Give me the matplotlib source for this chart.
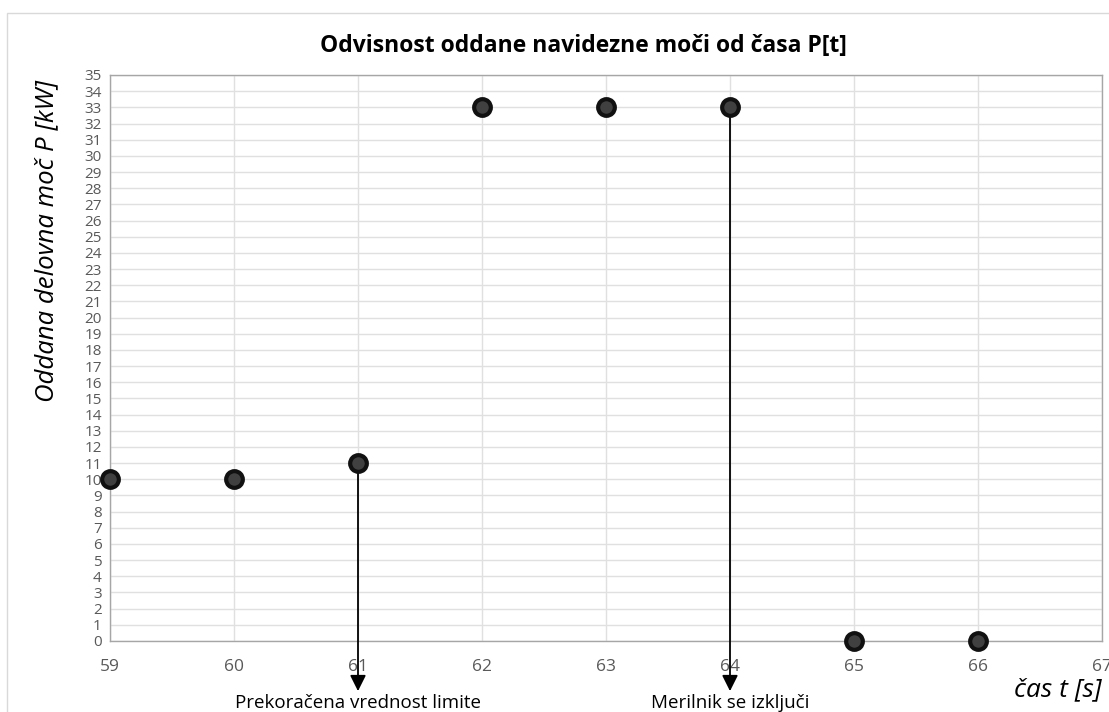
import matplotlib
matplotlib.use("Agg")
import matplotlib.pyplot as plt
from matplotlib.patches import Rectangle

# meritve
t = [59, 60, 61, 62, 63, 64, 65, 66]
P = [10, 10, 11, 33, 33, 33, 0, 0]

# dogodki (cas, besedilo)
ev_t = [61, 64]
ev_txt = ["Prekoračena vrednost limite", "Merilnik se izključi"]

plt.rcParams['font.family'] = ['Open Sans', 'DejaVu Sans']

fig = plt.figure(figsize=(11.09, 7.12), dpi=100)
fig.patches.append(Rectangle((7/1109, -0.1), 1.2, (712-13)/712 + 0.1,
                             transform=fig.transFigure, fill=False,
                             edgecolor='#d9d9d9', linewidth=1))
ax = fig.add_axes([110/1109, 71/712, 992/1109, 566/712])

ax.set_xlim(59, 67)
ax.set_ylim(0, 35)
ax.set_xticks(range(59, 68))
ax.set_yticks(range(0, 36))
ax.grid(True, color='#e0e0e0', linewidth=1)
ax.set_axisbelow(True)
for s in ax.spines.values():
    s.set_color('#a6a6a6')
    s.set_linewidth(1)
ax.tick_params(length=0, colors='#595959')
ax.tick_params(axis='x', pad=13, labelsize=12.5)
ax.tick_params(axis='y', pad=6, labelsize=11)

for x, txt in zip(ev_t, ev_txt):
    y = P[t.index(x)]
    ax.annotate("", xy=(x, -3.1), xytext=(x, y), annotation_clip=False,
                arrowprops=dict(arrowstyle='-|>', color='black', lw=1.3,
                                mutation_scale=24, shrinkA=0, shrinkB=0))
    ax.text(x, -3.85, txt, ha='center', va='center', fontsize=13.5,
            color='black', clip_on=False)

ax.plot(t, P, linestyle='none', marker='o', markersize=12,
        markerfacecolor='#404040', markeredgecolor='#111111',
        markeredgewidth=3, clip_on=False, zorder=5)

fig.text(583/1109, 1 - 46/712, "Odvisnost oddane navidezne moči od časa P[t]",
         ha='center', va='center', fontsize=16.5, fontweight='bold')
fig.text(47/1109, 1 - 241/712, "Oddana delovna moč P [kW]", rotation=90,
         ha='center', va='center', fontsize=18.5, style='italic')
fig.text(1102/1109, 1 - 690/712, "čas t [s]", ha='right', va='center',
         fontsize=19, style='italic')

fig.savefig("out.png", dpi=100)
